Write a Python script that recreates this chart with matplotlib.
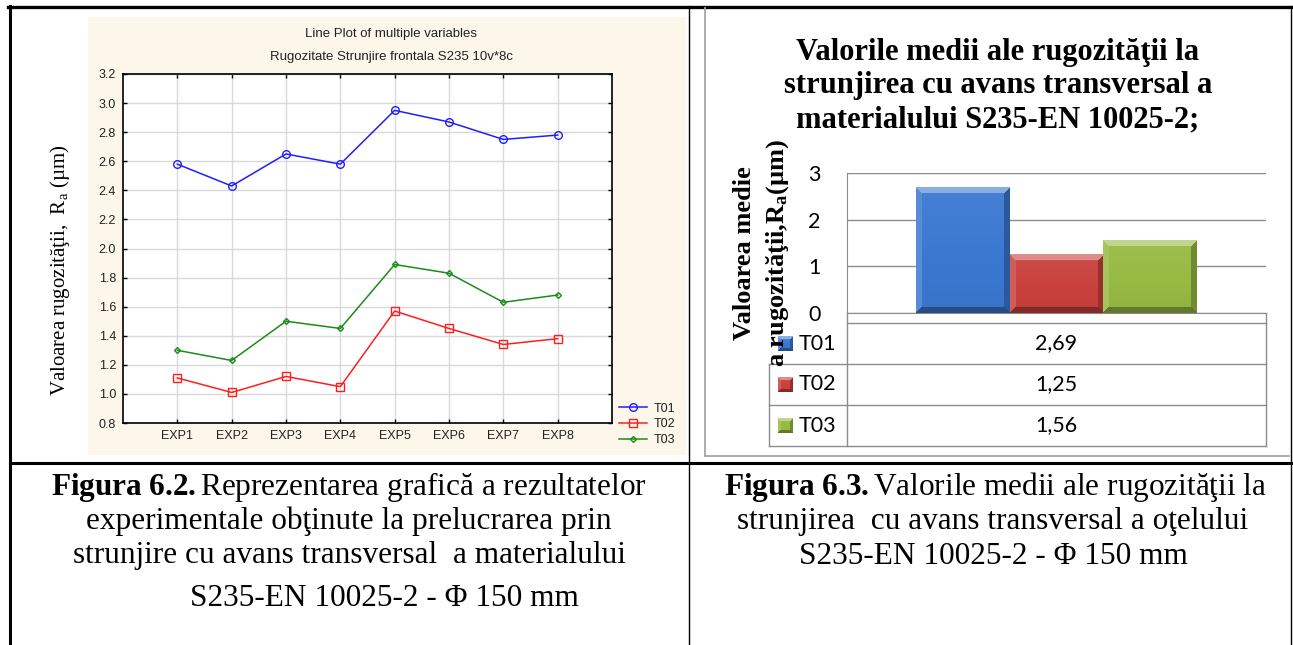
import numpy as np
import matplotlib
matplotlib.use("Agg")
import matplotlib.pyplot as plt

plt.rcParams["font.family"] = ["Liberation Sans", "DejaVu Sans"]
plt.rcParams["mathtext.fontset"] = "custom"
plt.rcParams["mathtext.rm"] = "Liberation Serif"
plt.rcParams["mathtext.it"] = "Liberation Serif:italic"
plt.rcParams["mathtext.bf"] = "Liberation Serif:bold"

# ---- data: line plot (Fig 6.2)
experiments = ["EXP1", "EXP2", "EXP3", "EXP4", "EXP5", "EXP6", "EXP7", "EXP8"]
t01 = [2.58, 2.43, 2.65, 2.58, 2.95, 2.87, 2.75, 2.78]
t02 = [1.11, 1.01, 1.12, 1.05, 1.57, 1.45, 1.34, 1.38]
t03 = [1.30, 1.23, 1.50, 1.45, 1.89, 1.83, 1.63, 1.68]
line_labels = ["T01", "T02", "T03"]

# ---- data: bar chart with table (Fig 6.3)
bar_labels = ["T01", "T02", "T03"]
bar_values = [2.69, 1.25, 1.56]

W, H = 1293, 645
SERIF = "Liberation Serif"


def box(x0, y0, x1, y1):
    # pixel box (top-left origin) -> figure fraction
    return [x0 / W, 1 - y1 / H, (x1 - x0) / W, (y1 - y0) / H]


def bevel(color, w, h, bw):
    """RGB image of an Office-2007 style bevelled block."""
    base = np.array(matplotlib.colors.to_rgb(color))
    yy, xx = np.mgrid[0:h, 0:w]
    d = np.stack([yy, h - 1 - yy, xx, w - 1 - xx])
    side = np.argmin(d, axis=0)
    near = np.min(d, axis=0) < bw
    amount = np.array([0.40, -0.35, 0.15, -0.25])[side] * near
    # soft vertical shading on the face
    amount = amount + (~near) * (0.06 - 0.10 * yy / max(h - 1, 1))
    img = np.empty((h, w, 3))
    for k in range(3):
        c = base[k]
        img[..., k] = np.where(amount > 0, c + amount * (1 - c), c * (1 + amount))
    return np.clip(img, 0, 1)


fig = plt.figure(figsize=(W / 100, H / 100), dpi=100)
page = fig.add_axes([0, 0, 1, 1], zorder=0)
page.set_xlim(0, W)
page.set_ylim(H, 0)
page.axis("off")

# document table frame
page.plot([10, 10], [6, H], color="black", lw=2.2)
page.plot([8, W], [6.5, 6.5], color="black", lw=2.4)
page.plot([10, W], [463, 463], color="black", lw=2.2)
page.plot([689, 689], [6, H], color="black", lw=1.0)
page.plot([1291, 1291], [6, H], color="black", lw=1.0)

# cream background of the Statistica graph
page.add_patch(plt.Rectangle((88, 17), 598, 438, color="#FCF7EA", lw=0))

# grey frame of the Excel chart
page.plot([705, 705], [8, 456], color="#A6A6A6", lw=1.3)
page.plot([705, 1289], [456, 456], color="#A6A6A6", lw=1.3)

# ================= left: line plot =================
ax = fig.add_axes(box(123, 74, 612, 423), zorder=2)
ax.set_facecolor("white")
xpos = np.arange(1, len(experiments) + 1)
styles = [("#1E1EFF", "o", 5.5), ("#FF1E1E", "s", 5.5), ("#1A8C1A", "D", 3)]
for vals, lab, (col, mk, ms) in zip([t01, t02, t03], line_labels, styles):
    ax.plot(xpos, vals, color=col, marker=mk, ms=ms, mfc="none", mec=col,
            mew=1.0, lw=1.1, label=lab)
ax.set_xlim(0, 9)
ax.set_ylim(0.8, 3.2)
ax.set_xticks(xpos)
ax.set_xticklabels(experiments)
ax.set_yticks(np.round(np.arange(0.8, 3.21, 0.2), 1))
ax.yaxis.set_major_formatter(matplotlib.ticker.FormatStrFormatter("%.1f"))
ax.grid(True, color="#D9D9D9", lw=1.0)
ax.set_axisbelow(True)
ax.tick_params(direction="in", length=3, width=1, top=True, right=True,
               labelsize=9, labelcolor="#222222", pad=5)
for s in ax.spines.values():
    s.set_linewidth(1.2)
leg = ax.legend(loc="lower left", bbox_to_anchor=(619, 446),
                bbox_transform=page.transData, frameon=False, fontsize=9,
                handlelength=2.2, handletextpad=0.6, labelspacing=0.3,
                borderpad=0, borderaxespad=0)
for t in leg.get_texts():
    t.set_color("#222222")

page.text(391, 34, "Line Plot of multiple variables", ha="center", va="center",
          fontsize=9.5, color="#222222")
page.text(392, 57, "Rugozitate Strunjire frontala S235 10v*8c", ha="center",
          va="center", fontsize=9.5, color="#222222")
page.text(60, 270, "Valoarea rugozităţii,  R$_\\mathrm{a}$ (µm)", rotation=90,
          ha="center", va="center", fontsize=15, family=SERIF)

# ================= right: bar chart + data table =================
bx = fig.add_axes(box(847, 173, 1266, 313), zorder=2)
bw_ = 0.224
offs = (np.arange(len(bar_values)) - 1) * bw_
colors = ["#3A78D0", "#C9413D", "#97BA42"]
bars = bx.bar(offs, bar_values, width=bw_, color=colors, edgecolor="none")
bx.set_xlim(-0.5, 0.5)
bx.set_ylim(0, 3)
for p, c in zip(bars, colors):
    x0, y0 = p.get_x(), p.get_y()
    x1, y1 = x0 + p.get_width(), y0 + p.get_height()
    (px0, py0), (px1, py1) = bx.transData.transform([(x0, y0), (x1, y1)])
    img = bevel(c, int(round(px1 - px0)), int(round(py1 - py0)), 6)
    bx.imshow(img, extent=[x0, x1, y0, y1], aspect="auto", origin="upper",
              interpolation="bilinear", zorder=3)
bx.set_xlim(-0.5, 0.5)
bx.set_ylim(0, 3)
bx.set_yticks([0, 1, 2, 3])
bx.set_xticks([])
bx.grid(True, axis="y", color="#8C8C8C", lw=1.0)
bx.set_axisbelow(True)
for k in ["top", "right"]:
    bx.spines[k].set_visible(False)
bx.spines["left"].set_color("#8C8C8C")
bx.spines["bottom"].set_color("#8C8C8C")
bx.tick_params(axis="y", length=0, pad=19, labelsize=15.5)
for t in bx.get_yticklabels():
    t.set_family(["Lato", "DejaVu Sans"])

# data table under the bars
tab_top, row_h = 323, 41
tab_left, col_x, tab_right = 769, 847, 1266
gcol = "#8C8C8C"
page.plot([col_x, col_x], [313, tab_top + row_h * 3], color=gcol, lw=1.0)
page.plot([tab_right, tab_right], [313, tab_top + row_h * 3], color=gcol, lw=1.0)
page.plot([tab_left, tab_left], [tab_top + row_h, tab_top + row_h * 3],
          color=gcol, lw=1.0)
page.plot([col_x, tab_right], [tab_top, tab_top], color=gcol, lw=1.0)
for i, (lab, v, c) in enumerate(zip(bar_labels, bar_values, colors)):
    y_bot = tab_top + row_h * (i + 1)
    page.plot([tab_left, tab_right], [y_bot, y_bot], color=gcol, lw=1.0)
    yc = y_bot - row_h / 2
    page.imshow(bevel(c, 15, 15, 3), extent=[778, 793, yc + 7.5, yc - 7.5],
                aspect="auto", interpolation="bilinear", zorder=3)
    page.text(799, yc, lab, ha="left", va="center", fontsize=15.5,
              family=["Lato", "DejaVu Sans"])
    page.text((col_x + tab_right) / 2, yc, f"{v:.2f}".replace(".", ","),
              ha="center", va="center", fontsize=15.5,
              family=["Lato", "DejaVu Sans"])
page.set_xlim(0, W)
page.set_ylim(H, 0)

page.text(998, 86, "Valorile medii ale rugozităţii la\n"
          "strunjirea cu avans transversal a\n"
          "materialului S235-EN 10025-2;",
          ha="center", va="center", fontsize=22, fontweight="bold",
          family=SERIF, linespacing=1.22)
page.text(762, 253, "Valoarea medie\na rugozităţii,$\\mathbf{R}_\\mathbf{a}$(µm)",
          rotation=90, ha="center", va="center", multialignment="center",
          fontsize=19, fontweight="bold", family=SERIF, linespacing=1.45,
          zorder=4)

# ================= captions =================
cap_fs = 22.5
page.text(349, 487, "$\\mathbf{Figura\\ 6.2.}$Reprezentarea grafică a rezultatelor",
          ha="center", va="center", fontsize=cap_fs, family=SERIF)
page.text(349, 521, "experimentale obţinute la prelucrarea prin",
          ha="center", va="center", fontsize=cap_fs, family=SERIF)
page.text(349, 555, "strunjire cu avans transversal  a materialului",
          ha="center", va="center", fontsize=cap_fs, family=SERIF)
page.text(384, 598, "S235-EN 10025-2 - Φ 150 mm",
          ha="center", va="center", fontsize=cap_fs, family=SERIF)

page.text(995, 487, "$\\mathbf{Figura\\ 6.3.}$Valorile medii ale rugozităţii la",
          ha="center", va="center", fontsize=cap_fs, family=SERIF)
page.text(993, 522, "strunjirea  cu avans transversal a oţelului",
          ha="center", va="center", fontsize=cap_fs, family=SERIF)
page.text(993, 557, "S235-EN 10025-2 - Φ 150 mm",
          ha="center", va="center", fontsize=cap_fs, family=SERIF)

fig.savefig("out.png", dpi=100)
